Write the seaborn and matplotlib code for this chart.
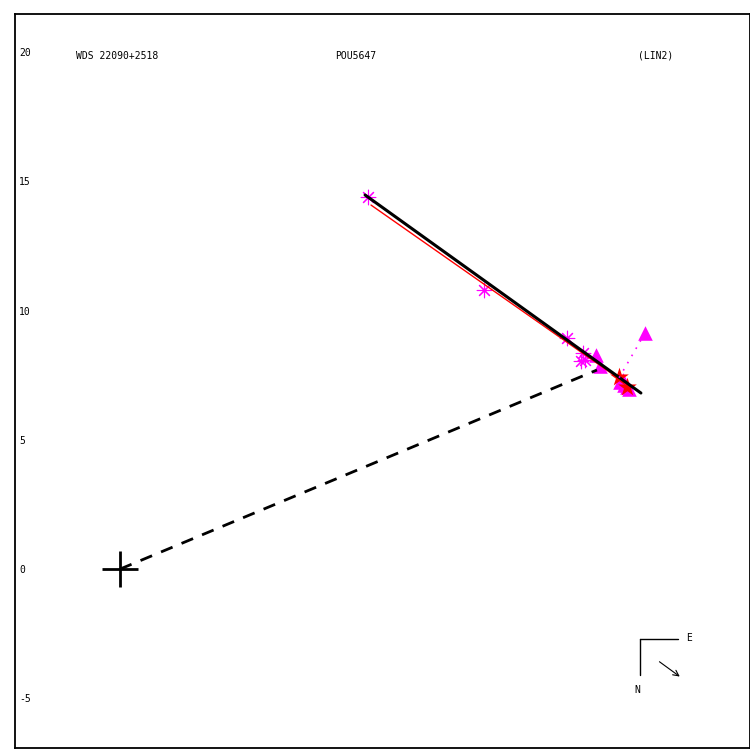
import matplotlib
matplotlib.use("Agg")
import matplotlib.pyplot as plt
import seaborn as sns
import pandas as pd

# Observations (magenta asterisks: micrometer, triangles: speckle)
ast_x = [9.59, 14.08, 17.29, 17.91, 17.99, 17.85]
ast_y = [14.39, 10.79, 8.94, 8.36, 8.09, 8.05]
tri_x = [18.41, 18.57, 20.31, 19.35, 19.50, 19.62, 19.70, 19.45]
tri_y = [8.28, 7.85, 9.13, 7.25, 7.12, 7.05, 6.98, 7.30]
red_x = [19.30, 19.62]
red_y = [7.43, 7.05]

# Linear fits (black: LIN2, red: previous)
fit_x = [9.48, 20.15]
fit_y = [14.47, 6.81]
old_x = [9.71, 19.54]
old_y = [14.08, 7.20]

# Primary to current position, O-C residual
dash_x = [0.0, 18.45]
dash_y = [0.0, 7.70]
oc_x = [20.31, 19.30]
oc_y = [9.13, 7.39]

sns.set_style("white")
plt.rcParams["font.family"] = ["DejaVu Sans Mono"]
plt.rcParams["text.color"] = "black"
plt.rcParams["ytick.color"] = "black"
plt.rcParams["ytick.labelcolor"] = "black"
plt.rcParams["axes.unicode_minus"] = False

fig = plt.figure(figsize=(7.5, 7.5), dpi=100)
ax = fig.add_axes([15 / 750, 2 / 750, 735 / 750, 734 / 750])

sns.lineplot(x=dash_x, y=dash_y, sort=False, color="black", lw=2, ax=ax,
             dashes=False).lines[-1].set_dashes((4.5, 3.5))
sns.lineplot(x=old_x, y=old_y, sort=False, color="red", lw=1, ax=ax)
sns.lineplot(x=fit_x, y=fit_y, sort=False, color="black", lw=2.2, ax=ax)
ax.plot(oc_x, oc_y, color="magenta", lw=1.2, linestyle=(0, (1, 4)))

sns.scatterplot(x=ast_x, y=ast_y, marker=(8, 2, 0), s=110, color="magenta",
                edgecolor="magenta", linewidth=0.8, ax=ax)
sns.scatterplot(x=tri_x, y=tri_y, marker="^", s=110, color="magenta",
                edgecolor="magenta", linewidth=0, ax=ax)
sns.scatterplot(x=red_x, y=red_y, marker="*", s=200, color="red",
                edgecolor="red", linewidth=0, ax=ax)

# primary star
ax.plot([0], [0], marker="+", markersize=26, mew=2, color="black")

ax.set_xlim(-4.062, 24.37)
ax.set_ylim(-6.92, 21.47)
ax.set_xticks([])
ax.set_yticks([-5, 0, 5, 10, 15, 20])
ax.tick_params(axis="y", length=0, pad=-3, labelsize=7, labelcolor="black")
for lab in ax.get_yticklabels():
    lab.set_horizontalalignment("left")
for s in ax.spines.values():
    s.set_color("black")
    s.set_linewidth(1.3)

ax.text(-1.72, 19.85, "WDS 22090+2518", fontsize=7, va="center", ha="left")
ax.text(8.34, 19.85, "POU5647", fontsize=7, va="center", ha="left")
ax.text(20.04, 19.85, "(LIN2)", fontsize=7, va="center", ha="left")

# compass
ax.plot([20.12, 20.12], [-2.71, -4.10], color="black", lw=1)
ax.plot([20.12, 21.59], [-2.71, -2.71], color="black", lw=1)
ax.text(21.9, -2.68, "E", fontsize=7, va="center", ha="left")
ax.text(20.0, -4.68, "N", fontsize=7, va="center", ha="center")
ax.annotate("", xy=(21.74, -4.22), xytext=(20.78, -3.52),
            arrowprops=dict(arrowstyle="->", color="black", lw=0.8))

fig.savefig("out.png", dpi=100)
